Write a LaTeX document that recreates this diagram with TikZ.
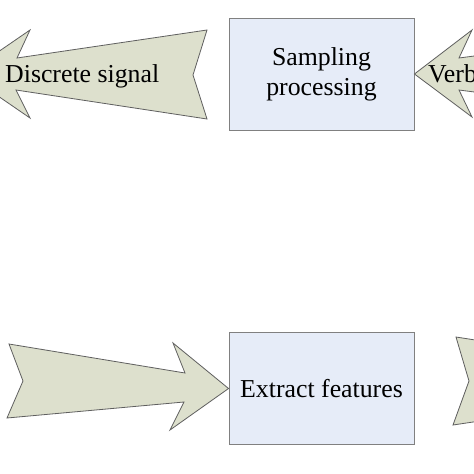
\documentclass[tikz,border=0pt]{standalone}
\usepackage{fontspec}
\setmainfont{Liberation Serif}
\definecolor{boxfill}{RGB}{230,236,248}
\definecolor{boxline}{RGB}{128,128,128}
\definecolor{arrfill}{RGB}{221,224,205}
\definecolor{arrline}{RGB}{95,95,95}
\tikzset{
  procbox/.style={draw=boxline, fill=boxfill, line width=0.9pt, minimum width=185pt, minimum height=112pt, inner sep=0pt, align=center, font=\fontsize{25.8}{30}\selectfont},
  blockarrow/.style={draw=arrline, fill=arrfill, line width=0.8pt, line join=miter},
  lbl/.style={inner sep=0pt, font=\fontsize{25.8}{30}\selectfont, anchor=base west}
}
\begin{document}
\begin{tikzpicture}[x=1pt,y=-1pt]
\useasboundingbox (0,0) rectangle (474,474);
\fill[white] (0,0) rectangle (474,474);
\clip (0,0) rectangle (474,474);
% boxes
\node[procbox] (samp) at (321.5,74) {Sampling\\processing};
\node[procbox] (feat) at (321.5,388.5) {Extract features};
% top-left block arrow (pointing left)
\draw[blockarrow] (-34,74) -- (30,30) -- (17,58) -- (207,30) -- (193,75) -- (207,119) -- (16,90) -- (30,118) -- cycle;
\node[lbl] (disc) at (5,82) {Discrete signal};
% top-right block arrow (pointing left into box)
\draw[blockarrow] (samp.east) -- (472,30) -- (459,58) -- (520,50) -- (520,98) -- (459,90) -- (472,117) -- cycle;
\node[lbl] (verb) at (428,82) {Verb};
% bottom-left block arrow (pointing right into box)
\draw[blockarrow] (9,344) -- (185,373) -- (173,343) -- (feat.west) -- (170,430) -- (184,402) -- (7,418) -- (23,381) -- cycle;
% bottom-right block arrow (partially visible)
\draw[blockarrow] (456,337) -- (520,347) -- (520,415) -- (453,425) -- (469,381) -- cycle;
\end{tikzpicture}
\end{document}
